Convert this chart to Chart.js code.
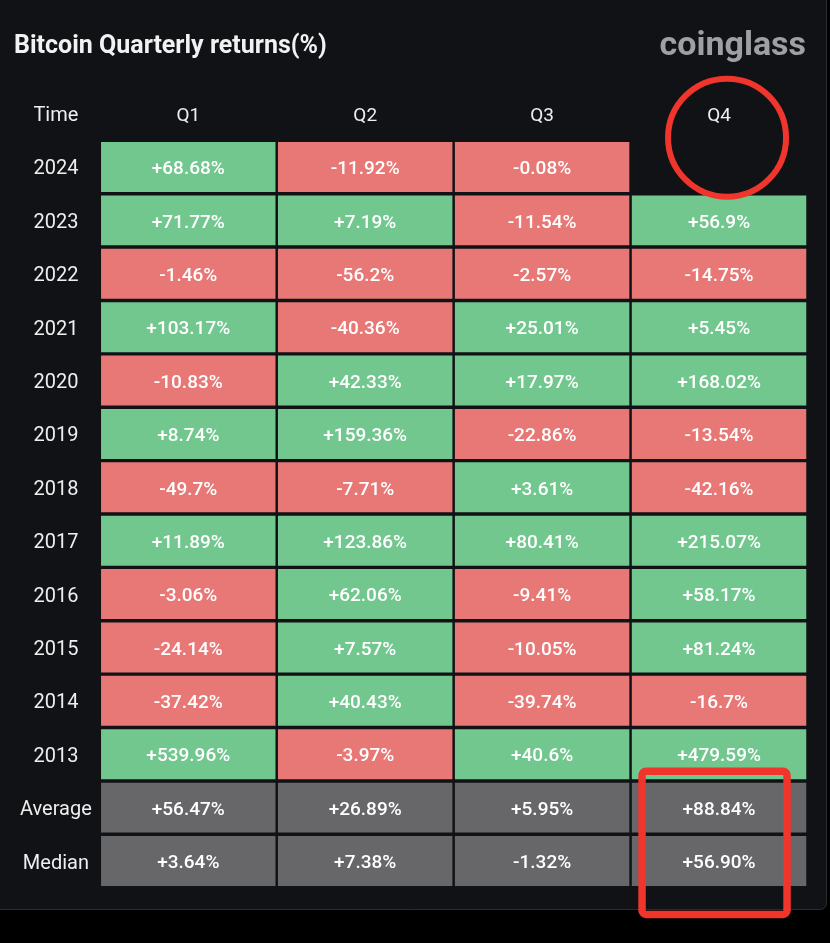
<!DOCTYPE html>
<html><head><meta charset="utf-8">
<script src="https://cdn.jsdelivr.net/npm/chart.js@4"></script>
<style>html,body{margin:0;padding:0;background:#000;}canvas{display:block}</style>
</head><body>
<canvas id="c" width="830" height="943"></canvas>
<script>
// ---- data ----
const quarters = ['Q1', 'Q2', 'Q3', 'Q4'];
const years = ['2024','2023','2022','2021','2020','2019','2018','2017','2016','2015','2014','2013'];
const summaryLabels = ['Average', 'Median'];
const q1 = [68.68, 71.77, -1.46, 103.17, -10.83, 8.74, -49.7, 11.89, -3.06, -24.14, -37.42, 539.96];
const q2 = [-11.92, 7.19, -56.2, -40.36, 42.33, 159.36, -7.71, 123.86, 62.06, 7.57, 40.43, -3.97];
const q3 = [-0.08, -11.54, -2.57, 25.01, 17.97, -22.86, 3.61, 80.41, -9.41, -10.05, -39.74, 40.6];
const q4 = [null, 56.9, -14.75, 5.45, 168.02, -13.54, -42.16, 215.07, 58.17, 81.24, -16.7, 479.59];
const average = [56.47, 26.89, 5.95, 88.84];
const median = [3.64, 7.38, -1.32, 56.90];

const rowLabels = years.concat(summaryLabels);
const rowValues = years.map((y, i) => [q1[i], q2[i], q3[i], q4[i]]).concat([average, median]);
const isSummary = i => i >= years.length;

const GREEN = 'rgb(114,199,143)', RED = 'rgb(232,120,118)', GREY = 'rgb(103,103,105)';
const FONT = 'Roboto';
const HALF = 0.468;

function fmt(v, summary) {
  const s = summary ? Math.abs(v).toFixed(2) : String(Math.abs(v));
  return (v >= 0 ? '+' : '-') + s + '%';
}

const datasets = rowLabels.map((lab, i) => ({
  label: lab,
  data: rowValues[i].map(v => v == null ? null : [i - HALF, i + HALF]),
  backgroundColor: rowValues[i].map(v => isSummary(i) ? GREY : (v >= 0 ? GREEN : RED)),
  borderWidth: 0,
  grouped: false,
  barPercentage: 0.986,
  categoryPercentage: 1
}));

const bgPlugin = {
  id: 'bg',
  beforeDraw(chart) {
    const ctx = chart.ctx;
    ctx.save();
    ctx.fillStyle = '#000';
    ctx.fillRect(0, 0, chart.width, chart.height);
    ctx.fillStyle = '#101216';
    ctx.strokeStyle = '#2a2c31';
    ctx.lineWidth = 1;
    ctx.beginPath();
    ctx.moveTo(-2, -2);
    ctx.lineTo(826.5, -2);
    ctx.lineTo(826.5, 903);
    ctx.arcTo(826.5, 909.5, 820, 909.5, 6);
    ctx.lineTo(-2, 909.5);
    ctx.closePath();
    ctx.fill();
    ctx.stroke();
    ctx.restore();
  }
};

const textPlugin = {
  id: 'cellText',
  afterDatasetsDraw(chart) {
    const ctx = chart.ctx;
    ctx.save();
    ctx.fillStyle = '#ffffff';
    ctx.textAlign = 'center';
    ctx.textBaseline = 'middle';
    ctx.font = '500 19px ' + FONT;
    chart.data.datasets.forEach((ds, i) => {
      const meta = chart.getDatasetMeta(i);
      meta.data.forEach((el, j) => {
        const v = rowValues[i][j];
        if (v == null) return;
        ctx.fillText(fmt(v, isSummary(i)), el.x, (el.y + el.base) / 2 + 2.5);
      });
    });
    // header "Time"
    const ys = chart.scales.y;
    ctx.font = '20px ' + FONT;
    ctx.fillStyle = '#eeeeee';
    let widest = 0;
    rowLabels.forEach(l => { widest = Math.max(widest, ctx.measureText(l).width); });
    ctx.fillText('Time', ys.right - 8 - widest / 2, 115.5);
    // logo text
    ctx.font = 'bold 34px ' + FONT;
    ctx.fillStyle = '#9fa0a4';
    ctx.textAlign = 'right';
    ctx.textBaseline = 'alphabetic';
    ctx.fillText('coinglass', 806, 55);
    ctx.restore();
  }
};

const markPlugin = {
  id: 'marks',
  afterDraw(chart) {
    const ctx = chart.ctx, xs = chart.scales.x, ys = chart.scales.y;
    const cx = xs.getPixelForValue(3);
    ctx.save();
    ctx.strokeStyle = '#f0362c';
    ctx.lineWidth = 6;
    ctx.beginPath();
    ctx.arc(cx + 8, ys.getPixelForValue(-0.55), 59, 0, Math.PI * 2);
    ctx.stroke();
    ctx.lineWidth = 7.5;
    const top = ys.getPixelForValue(11.32), bot = ys.getPixelForValue(14.0);
    const l = cx - 77, r = cx + 68, rad = 4;
    ctx.beginPath();
    ctx.moveTo(l + rad, top);
    ctx.arcTo(r, top, r, bot, rad);
    ctx.arcTo(r, bot, l, bot, rad);
    ctx.arcTo(l, bot, l, top, rad);
    ctx.arcTo(l, top, r, top, rad);
    ctx.closePath();
    ctx.stroke();
    ctx.restore();
  }
};

new Chart(document.getElementById('c'), {
  type: 'bar',
  data: { labels: quarters, datasets },
  plugins: [bgPlugin, textPlugin, markPlugin],
  options: {
    responsive: false,
    animation: false,
    devicePixelRatio: 1,
    layout: { padding: { left: 14, right: 22.5, top: 32, bottom: 55.3 } },
    plugins: {
      legend: { display: false },
      tooltip: { enabled: false },
      title: {
        display: true,
        text: 'Bitcoin Quarterly returns(%)',
        align: 'start',
        color: '#f2f2f2',
        font: { family: FONT, size: 25, weight: 'bold', lineHeight: 1.2 },
        padding: 0
      }
    },
    scales: {
      x: {
        type: 'category',
        position: 'top',
        grid: { display: false, drawTicks: false },
        border: { display: false },
        ticks: { color: '#eeeeee', font: { family: FONT, size: 19 }, padding: 13, maxRotation: 0 },
        afterFit(s) { s.height = 78.3; }
      },
      y: {
        type: 'linear',
        reverse: true,
        min: -0.5,
        max: rowLabels.length - 0.5,
        grid: { display: false, drawTicks: false },
        border: { display: false },
        afterBuildTicks(s) { s.ticks = rowLabels.map((_, i) => ({ value: i })); },
        ticks: {
          color: '#eeeeee',
          font: { family: FONT, size: 20, lineHeight: '5px' },
          padding: 8,
          crossAlign: 'center',
          callback: v => ['', rowLabels[v]]
        },
        afterFit(s) { s.width = 85.8; }
      }
    }
  }
});
</script>
</body></html>
